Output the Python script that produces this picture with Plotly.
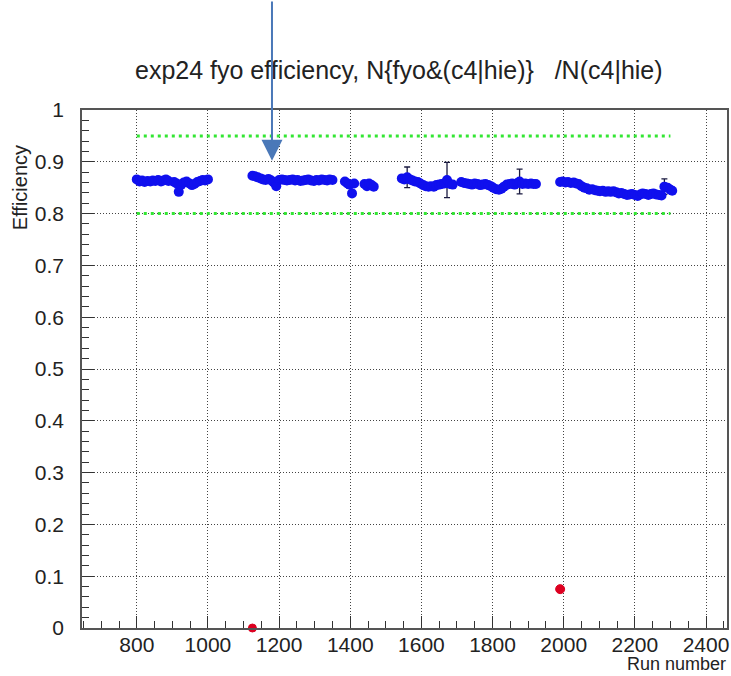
import plotly.graph_objects as go

# Per-run efficiency measurements
run_x = [
    800, 808, 815, 822, 830, 838, 845, 852, 860, 868, 875, 882, 889,
    905, 912, 918, 925, 932, 940, 948, 955, 962, 970, 978, 985, 992, 1000,
    1125, 1132, 1140, 1148, 1155, 1162, 1170, 1178, 1185, 1192, 1200, 1208, 1215,
    1222, 1230, 1238, 1245, 1252, 1260, 1268, 1275, 1282, 1290, 1298, 1305, 1312,
    1320, 1328, 1335, 1342, 1350,
    1385, 1392, 1398, 1405, 1411,
    1440, 1447, 1453, 1460, 1466,
    1545, 1552, 1560, 1568, 1575, 1582, 1590, 1597, 1605, 1612, 1620, 1627, 1635,
    1642, 1650, 1657, 1665, 1672, 1680, 1688,
    1712, 1720, 1728, 1735, 1742, 1750, 1758, 1765, 1772, 1780, 1788, 1795, 1802,
    1810, 1818, 1825, 1832, 1840, 1848, 1855, 1862, 1870, 1876, 1884, 1892, 1900,
    1908, 1915, 1922,
    1990, 1997, 2005, 2012, 2020, 2028, 2035, 2042, 2050, 2058, 2065, 2072, 2080,
    2088, 2095, 2102, 2110, 2118, 2125, 2132, 2140, 2148, 2155, 2162, 2170, 2178,
    2185, 2192, 2200, 2208, 2215, 2222, 2230, 2238, 2245, 2252, 2260, 2268, 2275,
    2283, 2292, 2300, 2305,
]
eff_y = [
    0.866, 0.862, 0.864, 0.861, 0.863, 0.862, 0.864, 0.863, 0.865, 0.862, 0.864, 0.866, 0.863,
    0.861, 0.858, 0.842, 0.856, 0.860, 0.862, 0.858, 0.855, 0.857, 0.861, 0.863, 0.865, 0.864, 0.866,
    0.873, 0.872, 0.870, 0.868, 0.866, 0.865, 0.867, 0.864, 0.860, 0.853, 0.865, 0.866, 0.865,
    0.864, 0.865, 0.866, 0.864, 0.865, 0.863, 0.864, 0.865, 0.866, 0.864, 0.863, 0.865, 0.864,
    0.866, 0.865, 0.864, 0.866, 0.865,
    0.862, 0.858, 0.856, 0.839, 0.858,
    0.857, 0.853, 0.858, 0.855, 0.852,
    0.868, 0.866, 0.870, 0.866, 0.864, 0.862, 0.861, 0.858, 0.855, 0.853, 0.852, 0.853, 0.852,
    0.855, 0.856, 0.857, 0.858, 0.865, 0.857, 0.856,
    0.861, 0.859, 0.858, 0.857, 0.856, 0.858, 0.857, 0.855, 0.856, 0.857, 0.855, 0.853, 0.850,
    0.847, 0.846, 0.848, 0.852, 0.856, 0.857, 0.858, 0.856, 0.859, 0.862, 0.857, 0.858, 0.857,
    0.858, 0.857, 0.857,
    0.861, 0.862, 0.860, 0.861, 0.859, 0.860, 0.858, 0.857, 0.853, 0.850, 0.849, 0.846, 0.847,
    0.845, 0.844, 0.843, 0.844, 0.842, 0.843, 0.842, 0.843, 0.841, 0.839, 0.840, 0.838, 0.836,
    0.837, 0.838, 0.836, 0.834, 0.837, 0.839, 0.838, 0.836, 0.838, 0.839, 0.837, 0.836, 0.835,
    0.852, 0.850, 0.846, 0.844,
]
# Statistical uncertainty per run (most are hidden under the marker)
eff_err = [0.003] * len(run_x)
large_errors = {1560: 0.020, 1672: 0.034, 1876: 0.024, 2283: 0.015}
for run, err in large_errors.items():
    eff_err[run_x.index(run)] = err

# Runs flagged as failing
bad_x = [1125, 1990]
bad_y = [0.0, 0.075]
bad_size = [8, 9]

# Acceptance band limits
band_x = [800, 2300]
band_low = 0.80
band_high = 0.95

x_ticks = [800, 1000, 1200, 1400, 1600, 1800, 2000, 2200, 2400]
y_ticks = [0, 0.1, 0.2, 0.3, 0.4, 0.5, 0.6, 0.7, 0.8, 0.9, 1]
y_tick_text = ["0", "0.1", "0.2", "0.3", "0.4", "0.5", "0.6", "0.7", "0.8", "0.9", "1"]

FONT = "Liberation Sans, Arial, Helvetica, sans-serif"
GREEN = "#33e633"
RED = "#dd0020"

# plot-area pixel box, used to place free-standing labels
PL, PR, PT, PB = 82, 729, 110, 628


def px_x(p):
    return (p - PL) / (PR - PL)


def px_y(p):
    return (PB - p) / (PB - PT)


fig = go.Figure()

for level in (band_high, band_low):
    fig.add_trace(go.Scatter(
        x=band_x, y=[level, level], mode="lines",
        line=dict(color=GREEN, width=3, dash="3px,4px"),
        hoverinfo="skip", showlegend=False,
    ))

fig.add_trace(go.Scatter(
    x=run_x, y=eff_y, mode="markers",
    marker=dict(color="#1010ee", size=10, line=dict(width=0)),
    error_y=dict(type="data", array=eff_err, visible=True,
                 color="#1a1a40", thickness=1.3, width=3),
    showlegend=False,
))

fig.add_trace(go.Scatter(
    x=bad_x, y=bad_y, mode="markers",
    marker=dict(color=RED, size=bad_size, opacity=1,
                line=dict(color=RED, width=1)),
    cliponaxis=False, showlegend=False,
))

axis_common = dict(
    showline=True, linecolor="#555555", linewidth=1.5, mirror=True,
    ticks="inside", tickcolor="#333333", tickwidth=1.3,
    showgrid=True, gridcolor="#444444", gridwidth=1, griddash="1px,2px",
    zeroline=False,
    tickfont=dict(family=FONT, size=21, color="#222222"),
)

fig.update_xaxes(
    range=[646, 2459], tickvals=x_ticks, ticklen=12,
    minor=dict(dtick=50, tick0=0, ticks="inside", ticklen=7,
               tickcolor="#333333", tickwidth=1.3, showgrid=False),
    ticklabelstandoff=-3,
    **axis_common,
)
fig.update_yaxes(
    range=[0, 1], tickvals=y_ticks, ticktext=y_tick_text, ticklen=12,
    minor=dict(dtick=0.02, tick0=0, ticks="inside", ticklen=7,
               tickcolor="#333333", tickwidth=1.3, showgrid=False),
    ticklabelstandoff=12,
    **axis_common,
)

fig.add_annotation(
    text="exp24 fyo efficiency, N{fyo&(c4|hie)}   /N(c4|hie)",
    xref="paper", yref="paper", x=px_x(400), y=px_y(70),
    xanchor="center", yanchor="middle", showarrow=False,
    font=dict(family=FONT, size=25, color="#222222"),
)
fig.add_annotation(
    text="Efficiency", textangle=-90,
    xref="paper", yref="paper", x=px_x(20), y=px_y(188),
    xanchor="center", yanchor="middle", showarrow=False,
    font=dict(family=FONT, size=20, color="#222222"),
)
fig.add_annotation(
    text="Run number",
    xref="paper", yref="paper", x=1.0, y=px_y(675),
    xanchor="right", yanchor="bottom", showarrow=False,
    font=dict(family=FONT, size=18, color="#222222"),
    borderpad=0,
)

# Marker arrow pointing at the run of interest
fig.add_annotation(
    x=1180, y=0.902, xref="x", yref="y",
    ax=0, ay=-165, showarrow=True,
    arrowhead=2, arrowsize=2.1, arrowwidth=2, arrowcolor="#4a78b8",
    text="",
)

fig.update_layout(
    width=731, height=676,
    margin=dict(l=PL, r=731 - PR, t=PT, b=676 - PB),
    paper_bgcolor="white", plot_bgcolor="white",
    font=dict(family=FONT),
)

fig.write_html("out.html")
